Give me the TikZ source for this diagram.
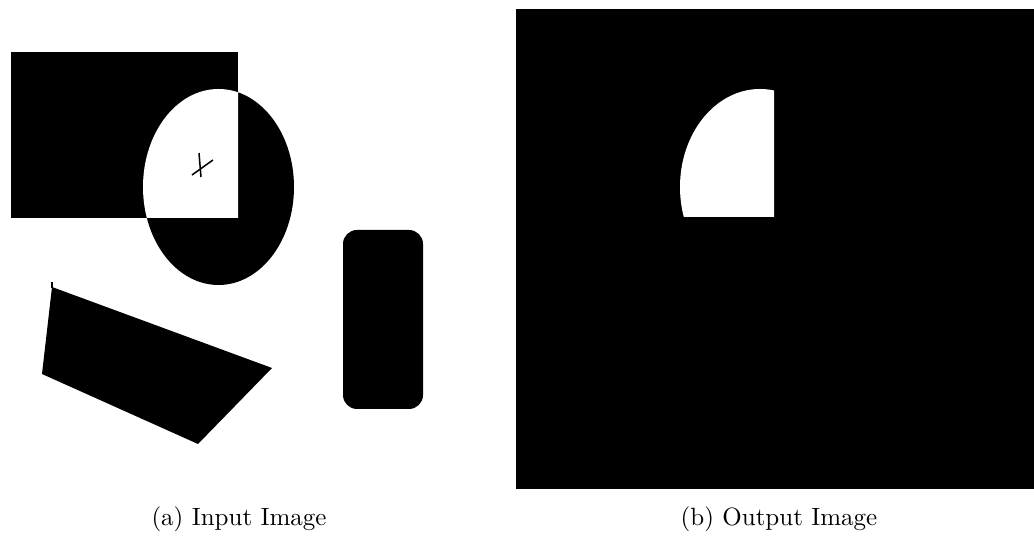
\documentclass[tikz,border=0pt]{standalone}
\begin{document}
\begin{tikzpicture}[x=0.4pt,y=-0.4pt,
  blackfill/.style={fill=black,draw=none},
  whitefill/.style={fill=white,draw=none},
  caption/.style={font=\normalsize,inner sep=0pt}]
\useasboundingbox (0,0) rectangle (1034,537);
% ---------- (a) input image ----------
\fill[blackfill] (11,52) rectangle (238,218);
\fill[blackfill] (218.5,187) ellipse [x radius=75.5,y radius=98];
\begin{scope}
  \clip (11,52) rectangle (238,218);
  \fill[whitefill] (218.5,187) ellipse [x radius=75.5,y radius=98];
\end{scope}
% cross mark
\draw[black,line width=0.6pt] (199,153) -- (201,177);
\draw[black,line width=0.6pt] (192,175) -- (213,160);
% quadrilateral
\fill[blackfill] (52,287) -- (272,368) -- (198,444) -- (42,374) -- cycle;
\draw[black,line width=0.8pt] (52,282) -- (52,288);
% rounded rectangle
\fill[blackfill,rounded corners=5.6pt] (343,230) rectangle (423,409);
% ---------- (b) output image ----------
\fill[blackfill] (516,9) rectangle (1034,489);
\begin{scope}
  \clip (670,52) rectangle (774,217);
  \fill[whitefill] (760,187) ellipse [x radius=80,y radius=98];
\end{scope}
% ---------- captions ----------
\node[caption] (capa) at (239,519) {(a) Input Image};
\node[caption] (capb) at (779,519) {(b) Output Image};
\end{tikzpicture}
\end{document}
